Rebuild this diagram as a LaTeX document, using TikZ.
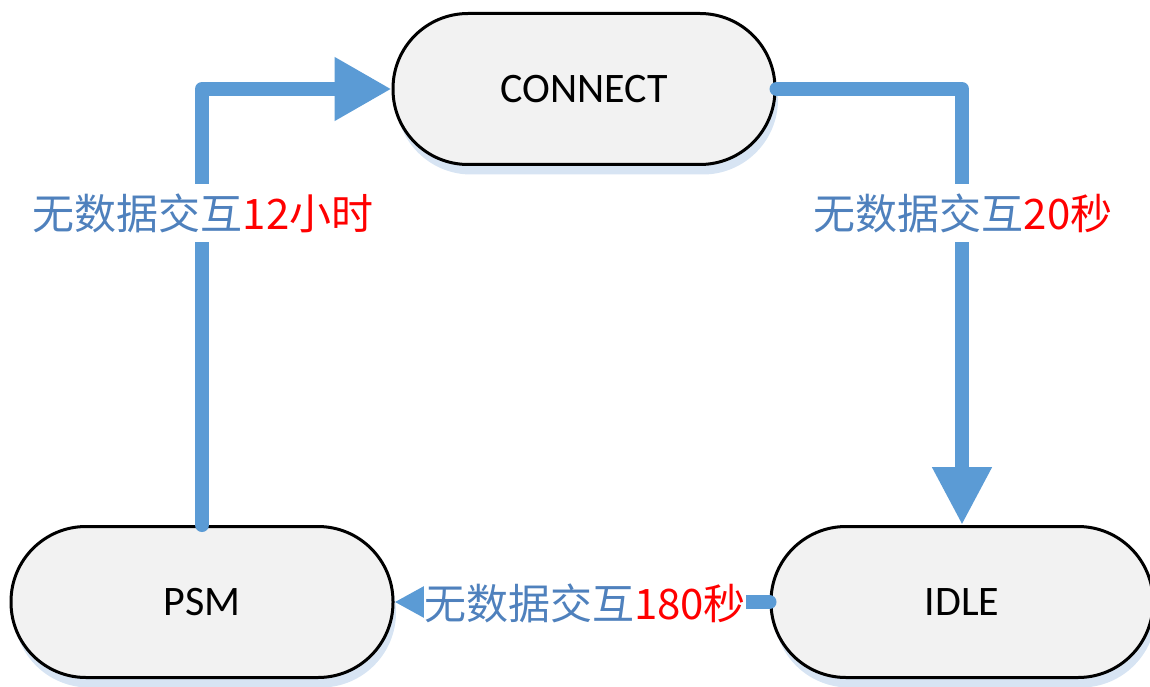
\documentclass[tikz,border=0pt]{standalone}
\usepackage{fontspec}
\setmainfont{Carlito}
\newfontfamily\cjk{Noto Sans CJK SC}
\usetikzlibrary{arrows.meta,shadows}
\definecolor{flowblue}{HTML}{5B9BD5}
\definecolor{textblue}{HTML}{4F81BD}
\definecolor{shadowblue}{HTML}{D7E4F3}
\definecolor{boxgray}{HTML}{F2F2F2}
\begin{document}
\begin{tikzpicture}[x=1pt, y=-1pt,
  state/.style={rectangle, rounded corners=75pt, minimum width=382pt, minimum height=151pt,
    draw=black, line width=3pt, fill=boxgray, font=\fontsize{42}{50}\selectfont,
    drop shadow={shadow xshift=3pt, shadow yshift=-10pt, fill=shadowblue, opacity=1}},
  flow/.style={draw=flowblue, line width=14pt, line cap=round, line join=round},
  lbl/.style={fill=white, inner xsep=0pt, inner ysep=9pt, font=\cjk\fontsize{42}{50}\selectfont, text=textblue}]
\useasboundingbox (0,0) rectangle (1150,687);
\node[state] (connect) at (584,89){CONNECT};
\node[state] (psm) at (202,602){PSM};
\node[state] (idle) at (962,602){IDLE};
\draw[flow, -{Triangle[length=57pt, width=60pt]}](psm.north) |- (connect.west);
\draw[flow, -{Triangle[length=58pt, width=56pt]}](connect.east) -| (idle.north);
\draw[flow, -{Triangle[length=30pt, width=30pt]}](idle.west) -- (psm.east);
\node[lbl] (t12h) at (203,213){无数据交互\textcolor{red}{12小时}};
\node[lbl] (t20s) at (963,213){无数据交互\textcolor{red}{20秒}};
\node[lbl] (t180s) at (585,603){无数据交互\textcolor{red}{180秒}};
\end{tikzpicture}
\end{document}
